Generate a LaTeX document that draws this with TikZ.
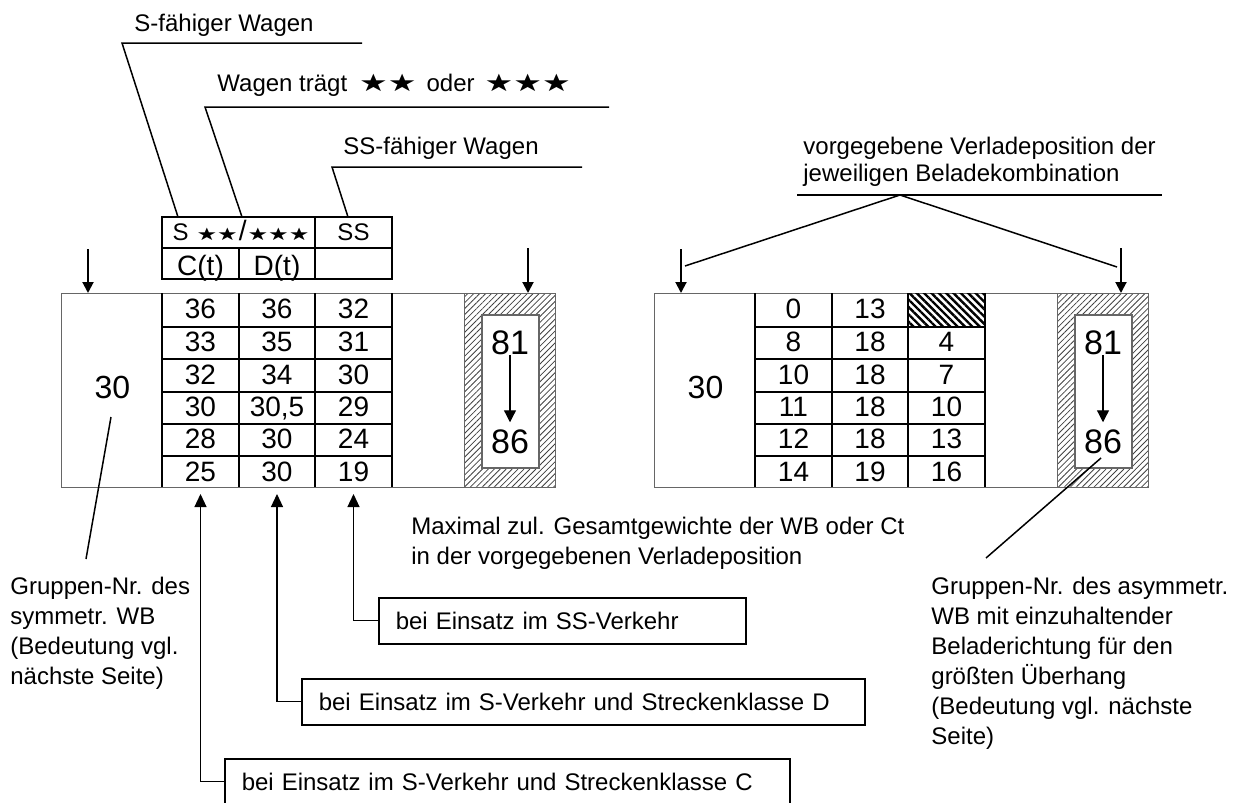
\documentclass[tikz,border=0pt]{standalone}
\usepackage{fontspec}
\setmainfont{Liberation Sans}
\newfontfamily\starfont{DejaVu Sans}
\usepackage{graphicx}
\usepackage{tikz}
\usetikzlibrary{arrows.meta,patterns.meta}
\newcommand{\Star}{\scalebox{1}[0.75]{\starfont ★}}

\begin{document}
\begin{tikzpicture}[x=0.5pt, y=-0.5pt,
  frame/.style={draw=black!60, line width=0.6pt, inner sep=0pt},
  grid/.style={line width=1pt},
  lead/.style={line width=0.75pt},
  down/.style={-{Triangle[length=5.5pt,width=5.5pt]}, line width=1pt},
  up/.style={-{Triangle[length=6.5pt,width=6pt]}, line width=0.6pt},
  seq/.style={-{Triangle[length=6pt,width=6pt]}, line width=0.6pt},
  hatched/.style={frame, pattern={Lines[angle=45,distance=2.1pt,line width=0.4pt]},
    pattern color=black!75},
  blocked/.style={pattern={Lines[angle=-45,distance=2.6pt,line width=1.2pt]}},
  num/.style={font=\fontsize{14}{14}\selectfont, inner sep=0pt, text height=10pt, text depth=0pt},
  grpnum/.style={font=\fontsize{16}{16}\selectfont, inner sep=0pt},
  dirnum/.style={font=\fontsize{17}{17}\selectfont, inner sep=0pt},
  head/.style={font=\fontsize{12}{14}\selectfont, inner sep=0pt, anchor=base},
  note/.style={font=\fontsize{12}{15}\selectfont, inner sep=0pt, align=left, anchor=north west},
  tag/.style={draw, line width=0.8pt, font=\fontsize{12}{14}\selectfont, inner xsep=8.5pt,
    inner ysep=0pt, minimum height=23pt, align=left, anchor=north west},
]
\clip (0,0) rectangle (1242,803);

% Both loading panels (left and right are the same frame)
\foreach \p/\dx in {L/0, R/593}{
  \begin{scope}[shift={(\dx,0)}]
    \node[frame, anchor=north west, minimum width=247pt, minimum height=97pt] (panel\p) at (61,293) {};
    \node[hatched, anchor=north east, minimum width=45.5pt, minimum height=97pt] (load\p) at (panel\p.north east) {};
    \node[frame, fill=white, minimum width=28.5pt, minimum height=76.5pt] (dir\p) at (510.5,391.5) {};
    \node[grpnum] (grp\p) at (112.5,387.5) {30};
    \node[dirnum] (from\p) at (510,342.5) {81};
    \node[dirnum] (to\p) at (510,441.7) {86};
    \draw[seq, shorten >=3.5pt] (from\p) -- (to\p);
    % loading positions
    \coordinate (drop\p a) at (88,249);
    \coordinate (drop\p b) at (528,248);
    \draw[down] (drop\p a) -- (drop\p a |- panel\p.north);
    \draw[down] (drop\p b) -- (drop\p b |- panel\p.north);
  \end{scope}
}

% blocked cell (right table, SS column)
\fill[blocked] (909,293) rectangle (985,327);

% Table grids
\foreach \dx in {0,593}{
  \foreach \x in {162,239,315,392} \draw[grid] (\x+\dx,293) -- (\x+\dx,487);
  \foreach \y in {327,359,391.5,423.5,456} \draw[grid] (162+\dx,\y) -- (392+\dx,\y);
}

% Left table values
\foreach \y/\a/\b/\c [count=\i] in {308.5/36/36/32, 341/33/35/31, 374/32/34/30,
    406/30/{30,5}/29, 438.5/28/30/24, 471/25/30/19}{
  \node[num] (lC\i) at (200.5,\y) {\a};
  \node[num] (lD\i) at (277,\y) {\b};
  \node[num] (lSS\i) at (353.5,\y) {\c};
}

% Right table values
\node[num] (rC1) at (793.5,308.5) {0};
\node[num] (rD1) at (870,308.5) {13};
\foreach \y/\a/\b/\c [count=\i from 2] in {341/8/18/4, 374/10/18/7,
    406/11/18/10, 438.5/12/18/13, 471/14/19/16}{
  \node[num] (rC\i) at (793.5,\y) {\a};
  \node[num] (rD\i) at (870,\y) {\b};
  \node[num] (rSS\i) at (946.5,\y) {\c};
}

% Header above the left table
\draw[grid] (162,217) rectangle (392,279);
\draw[grid] (162,248) -- (392,248);
\draw[grid] (315,217) -- (315,279);
\draw[grid] (239,248) -- (239,279);
\node[head] (hS) at (241,240.7) {S\hspace{4pt}{\fontsize{11.5}{10}\selectfont\Star\Star}\hspace{0.5pt}{\fontsize{14}{14}\selectfont/}\hspace{0.5pt}{\fontsize{11.5}{10}\selectfont\Star\Star\Star}};
\node[head] (hSS) at (353.5,240.7) {SS};
\node[head, font=\fontsize{14}{14}\selectfont] (hC) at (200.5,275) {C(t)};
\node[head, font=\fontsize{14}{14}\selectfont] (hD) at (277,275) {D(t)};

% Callouts to the header
\node[head, anchor=base west] (capS) at (134,31.7) {S-fähiger Wagen};
\node[head, anchor=base west] (capStar) at (217,91.7) {Wagen trägt\hspace{6pt}{\fontsize{16}{14}\selectfont\Star\Star}\hspace{5pt}oder\hspace{5pt}{\fontsize{16}{14}\selectfont\Star\Star\Star}};
\node[head, anchor=base west] (capSS) at (343,154) {SS-fähiger Wagen};
\coordinate (capSa) at (122,43);   \coordinate (capSb) at (362,43);   \coordinate (capSe) at (178,217);
\coordinate (capStara) at (205,107); \coordinate (capStarb) at (609,107); \coordinate (capStare) at (242,217);
\coordinate (capSSa) at (332,167); \coordinate (capSSb) at (582,167); \coordinate (capSSe) at (348,217);
\draw[lead] (capSb) -- (capSa) -- (capSe);
\draw[lead] (capStarb) -- (capStara) -- (capStare);
\draw[lead] (capSSb) -- (capSSa) -- (capSSe);

% Callout to the loading positions
\node[note, font=\fontsize{12}{13.5}\selectfont] (capPos) at (803,137)
  {vorgegebene Verladeposition der\\jeweiligen Beladekombination};
\coordinate (posA) at (797,195); \coordinate (posB) at (1162,195); \coordinate (posM) at (900,195);
\coordinate (posL) at (685,266); \coordinate (posR) at (1117,267);
\draw[lead] (posA) -- (posB);
\draw[lead] (posL) -- (posM) -- (posR);

% Notes
\node[note] (noteL) at (10,577) {Gruppen-Nr. des\\symmetr. WB\\(Bedeutung vgl.\\nächste Seite)};
\node[note] (noteR) at (931,577) {Gruppen-Nr. des asymmetr.\\WB mit einzuhaltender\\Beladerichtung für den\\größten Überhang\\(Bedeutung vgl. nächste\\Seite)};
\node[note] (noteMax) at (411,517) {Maximal zul. Gesamtgewichte der WB oder Ct\\in der vorgegebenen Verladeposition};
\coordinate (pinL) at (111,417); \coordinate (pinLe) at (86,559);
\coordinate (pinR) at (1101,458); \coordinate (pinRe) at (986,558);
\draw[lead] (pinL) -- (pinLe);
\draw[lead] (pinR) -- (pinRe);

% Service tags
\node[tag, text width=166.5pt] (tagSS) at (378,597) {bei Einsatz im SS-Verkehr};
\node[tag, text width=264.5pt] (tagD) at (301,678) {bei Einsatz im S-Verkehr und Streckenklasse D};
\node[tag, text width=265.5pt] (tagC) at (224,758) {bei Einsatz im S-Verkehr und Streckenklasse C};
\coordinate (tipSS) at (353.5,494);
\coordinate (tipD) at (277,494);
\coordinate (tipC) at (200.5,494);
\draw[up] (tagSS.west) -| (tipSS);
\draw[up] (tagD.west) -| (tipD);
\draw[up] (tagC.west) -| (tipC);
\end{tikzpicture}
\end{document}
